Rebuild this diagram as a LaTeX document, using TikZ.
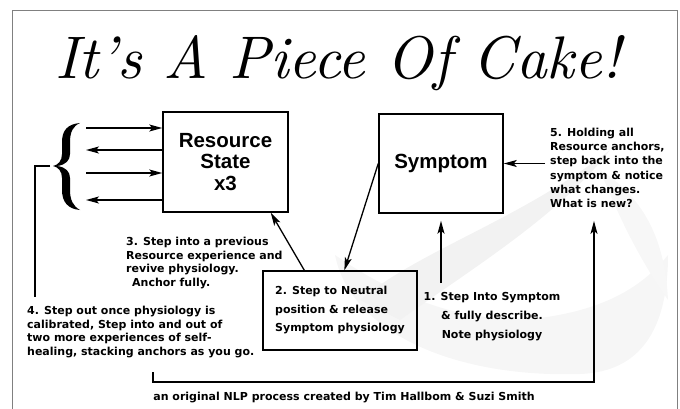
\documentclass[tikz,border=0pt]{standalone}
\usepackage{fontspec}
\usepackage{graphicx}
\usetikzlibrary{arrows.meta,calc}
\newfontfamily\bodyfont{DejaVu Sans}
\newfontfamily\boxfont{Liberation Sans}
\begin{document}
\begin{tikzpicture}[x=1pt,y=-1pt,
  box/.style={draw, line width=1.5pt, font=\boxfont\bfseries\fontsize{20.5}{21.5}\selectfont, align=center, inner sep=0pt},
  arr/.style={line width=1.3pt, -{Stealth[length=13pt,width=7pt,inset=3pt]}},
  plain/.style={line width=1.3pt},
  txt/.style={font=\bodyfont\bfseries\fontsize{11}{13.5}\selectfont, inner sep=0pt, align=left},
  ]
\useasboundingbox (0,0) rectangle (680,409);
% background swoosh
\fill[gray!7] (335,255) .. controls (350,330) and (450,378) .. (580,374) .. controls (640,372) and (668,330) .. (668,255)
  .. controls (640,290) and (600,310) .. (540,318) .. controls (470,325) and (400,300) .. (335,255) -- cycle;
\fill[gray!10] (360,300) .. controls (420,250) and (520,220) .. (610,150) .. controls (560,215) and (470,270) .. (400,320) -- cycle;
\fill[gray!6] (600,170) .. controls (640,195) and (665,235) .. (668,300) .. controls (640,260) and (620,220) .. (600,170) -- cycle;
% frame
\draw[gray, line width=0.8pt] (12,409) -- (12,10) -- (677,10) -- (677,409);
% title
\node (title) at (338,63) {\resizebox{565pt}{!}{\itshape It's A Piece Of Cake!}};
% boxes
\node[box, minimum width=125pt, minimum height=100pt] (res) at (225.5,162) {Resource\\State\\x3};
\node[box, minimum width=124pt, minimum height=99pt] (sym) at (441,163.5) {\raisebox{4pt}{Symptom}};
\node[draw, line width=1.3pt, minimum width=154pt, minimum height=79pt, inner sep=0pt,
      font=\bodyfont\bfseries\fontsize{11}{18.5}\selectfont, align=left] (s2) at (340,310.5)
      {2. Step to Neutral\\position \& release\\Symptom physiology};
% texts
\node[txt, anchor=north west] (t3) at (126,237) {3. Step into a previous\\Resource experience and\\revive physiology.\\\hspace*{6pt}Anchor fully.};
\node[txt, anchor=north west] (t4) at (27,306) {4. Step out once physiology is\\calibrated, Step into and out of\\two more experiences of self-\\healing, stacking anchors as you go.};
\node[txt, anchor=north west, font=\bodyfont\bfseries\fontsize{11}{14.2}\selectfont] (t5) at (550,128) {5. Holding all\\Resource anchors,\\step back into the\\symptom \& notice\\what changes.\\What is new?};
\node[txt, anchor=north, align=center, font=\bodyfont\bfseries\fontsize{11}{19}\selectfont] (t1) at (492,292) {1. Step Into Symptom\\\& fully describe.\\Note physiology};
\node[txt, font=\bodyfont\bfseries\fontsize{11}{13}\selectfont] (foot) at (344,398) {an original NLP process created by Tim Hallbom \& Suzi Smith};
% brace
\fill (80,123) .. controls (68,124) and (62,130) .. (62,142) -- (62,154) .. controls (62,161) and (58,165) .. (53,166)
  .. controls (58,167) and (62,171) .. (62,178) -- (62,190) .. controls (62,202) and (68,209) .. (80,210)
  .. controls (73,206) and (70,200) .. (70,190) -- (70,178) .. controls (70,172) and (66,167) .. (57,166)
  .. controls (66,165) and (70,160) .. (70,154) -- (70,142) .. controls (70,132) and (73,126) .. (80,123) -- cycle;
\coordinate (brtip) at (50,166);
% left arrows
\coordinate (a1) at (86,128);
\coordinate (a2) at (86,150);
\coordinate (a3) at (86,173);
\coordinate (a4) at (86,200);
\draw[arr] (a1) -- (a1 -| res.west);
\draw[arr] (a2 -| res.west) -- (a2);
\draw[arr] (a3) -- (a3 -| res.west);
\draw[arr] (a4 -| res.west) -- (a4);
% connectors
\draw[arr] (sym.west) -- ($(s2.north west)+(82,0)$);
\draw[arr] ($(s2.north west)+(42,0)$) -- ($(res.south east)+(-18,0)$);
\coordinate (s1foot) at (441,283);
\draw[arr, shorten >=7pt] (s1foot) -- (s1foot |- sym.south);
\draw[arr, shorten <=5pt] (t5.west |- sym.east) -- (sym.east);
\draw[plain] (brtip) -| ($(t4.north west)+(8,-9)$);
\coordinate (c1) at (153,372);
\coordinate (c2) at (594,382);
\draw[arr, shorten >=13pt] (c1) |- (c2) -- (c2 |- t5.south);
\end{tikzpicture}
\end{document}
